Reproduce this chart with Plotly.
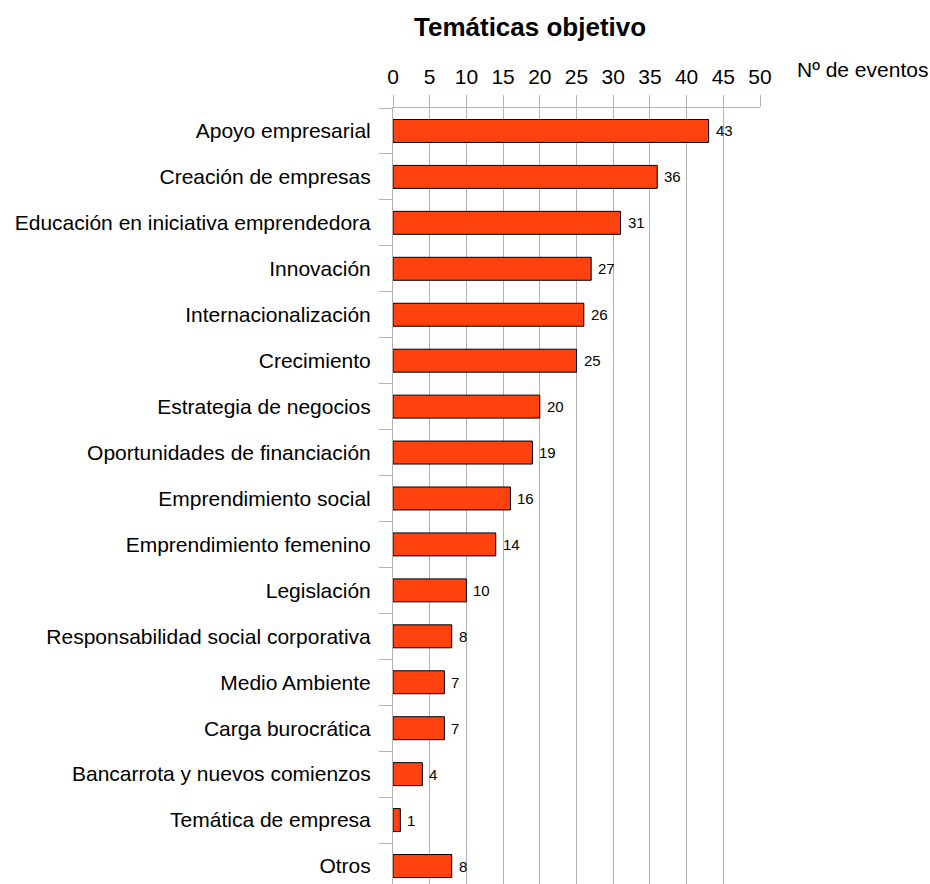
import plotly.graph_objects as go

# Event topics and number of events
temas = [
    "Apoyo empresarial",
    "Creación de empresas",
    "Educación en iniciativa emprendedora",
    "Innovación",
    "Internacionalización",
    "Crecimiento",
    "Estrategia de negocios",
    "Oportunidades de financiación",
    "Emprendimiento social",
    "Emprendimiento femenino",
    "Legislación",
    "Responsabilidad social corporativa",
    "Medio Ambiente",
    "Carga burocrática",
    "Bancarrota y nuevos comienzos",
    "Temática de empresa",
    "Otros",
]
eventos = [43, 36, 31, 27, 26, 25, 20, 19, 16, 14, 10, 8, 7, 7, 4, 1, 8]
x_ticks = [0, 5, 10, 15, 20, 25, 30, 35, 40, 45, 50]

FONT = "Liberation Sans, Arial, sans-serif"
GRID = "#b3b3b3"

# plot area geometry (pixels)
PL, PR, PT, H = 393, 760, 108, 884
PW, PH = PR - PL, H - PT

fig = go.Figure(
    go.Bar(
        x=eventos,
        y=temas,
        orientation="h",
        width=0.5,
        marker=dict(color="#ff420e", line=dict(color="#000000", width=1)),
        hoverinfo="x+y",
    )
)

# value labels just right of each bar end
value_labels = [
    dict(
        x=v, y=t, xref="x", yref="y",
        text=str(v), showarrow=False,
        xanchor="left", yanchor="middle", xshift=5,
        font=dict(family=FONT, size=15, color="#000000"),
    )
    for t, v in zip(temas, eventos)
]

fig.update_layout(
    width=930,
    height=H,
    margin=dict(l=PL, r=930 - PR, t=PT, b=0),
    paper_bgcolor="white",
    plot_bgcolor="white",
    showlegend=False,
    font=dict(family=FONT, size=21, color="#000000"),
    annotations=[
        dict(
            text="<b>Temáticas objetivo</b>",
            xref="paper", yref="paper",
            x=(530 - PL) / PW, y=1 + (PT - 27) / PH,
            xanchor="center", yanchor="middle",
            showarrow=False,
            font=dict(family=FONT, size=26, color="#000000"),
        ),
        dict(
            text="Nº de eventos",
            xref="paper", yref="paper",
            x=(795 - PL) / PW, y=1 + (PT - 70) / PH,
            xanchor="left", yanchor="middle",
            showarrow=False,
            font=dict(family=FONT, size=21, color="#000000"),
        ),
    ] + value_labels,
)

fig.update_xaxes(
    side="top",
    range=[0, 50],
    tickvals=x_ticks,
    ticktext=[str(t) for t in x_ticks],
    ticks="outside",
    ticklen=12,
    tickcolor=GRID,
    tickwidth=1,
    ticklabelstandoff=3,
    tickfont=dict(family=FONT, size=21, color="#000000"),
    showgrid=True,
    gridcolor=GRID,
    gridwidth=1,
    showline=True,
    linecolor=GRID,
    linewidth=1,
    zeroline=False,
    fixedrange=True,
)

fig.update_yaxes(
    type="category",
    categoryorder="array",
    categoryarray=temas,
    range=[len(temas) - 0.5 - 5 / 46, -0.5],
    ticks="outside",
    tickson="boundaries",
    ticklen=13,
    tickcolor=GRID,
    tickwidth=1,
    ticklabelstandoff=17,
    tickfont=dict(family=FONT, size=21, color="#000000"),
    showgrid=False,
    showline=True,
    linecolor=GRID,
    linewidth=1,
    zeroline=False,
    fixedrange=True,
)

fig.write_html("out.html")
